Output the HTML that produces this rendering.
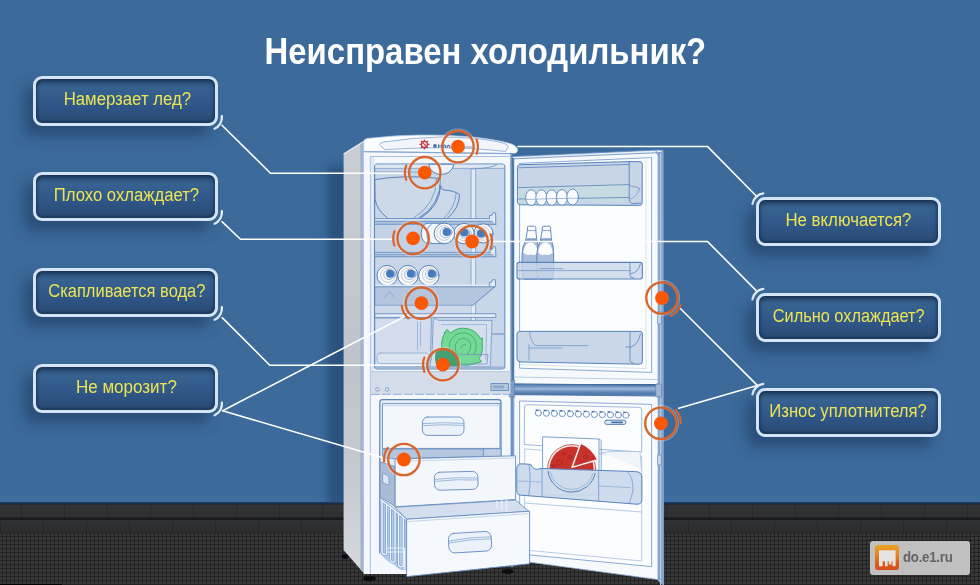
<!DOCTYPE html>
<html lang="ru">
<head>
<meta charset="utf-8">
<title>Неисправен холодильник?</title>
<style>
html,body{margin:0;padding:0;}
body{width:980px;height:585px;overflow:hidden;background:#3b6a9b;font-family:"Liberation Sans",sans-serif;position:relative;}
#stage{position:absolute;left:0;top:0;width:980px;height:585px;overflow:hidden;background:#3b6a9b;}
#wallshade{position:absolute;left:0;top:495px;width:980px;height:10px;background:linear-gradient(#3b6a9b 0%,#3f6fa2 55%,#3e6da0 66%,#1e3b60 74%,#1a2c45 88%,#26282b 100%);}
#base{position:absolute;left:0;top:505px;width:980px;height:30px;background-color:#2b2c2e;
 background-image:linear-gradient(90deg,rgba(20,20,22,.3) 1px,transparent 1px),linear-gradient(90deg,rgba(20,20,22,.3) 1px,transparent 1px),linear-gradient(rgba(52,53,55,.9) 0,rgba(46,47,49,.6) 12px,rgba(24,24,26,.9) 13px,rgba(24,24,26,.9) 15px),linear-gradient(rgba(50,51,53,.9) 0,rgba(42,43,45,.6) 13px,rgba(30,30,32,.9) 15px);
 background-size:43px 15px,43px 15px,100% 15px,100% 15px;background-position:21px 0,0 15px,0 0,0 15px;background-repeat:repeat-x,repeat-x,no-repeat,no-repeat;}
#floor{position:absolute;left:0;top:534px;width:980px;height:51px;background-color:#383839;
 background-image:linear-gradient(#232324 1px,transparent 1px),linear-gradient(90deg,#232324 1px,transparent 1px);background-size:4px 4px;background-position:2px 2px;}
#floor:after{content:"";position:absolute;left:0;top:49.6px;width:62px;height:2px;background:#000;}
#title{position:absolute;left:-15px;top:26.5px;width:1000px;text-align:center;color:#fff;font-weight:bold;font-size:37px;line-height:50px;white-space:nowrap;}
#title span{display:inline-block;transform-origin:50% 50%;transform:scaleX(.889);}
.btn{position:absolute;width:179px;height:43px;border:3px solid #d3e4f6;border-radius:9px;
 background:linear-gradient(#2c547f 0%,#36628f 22%,#30588a 55%,#284a72 100%);
 box-shadow:inset 0 2px 4px rgba(10,25,50,.7),inset 0 -2px 3px rgba(15,30,60,.35),-9px 10px 14px rgba(26,48,86,.5);
 color:#ece453;font-size:18px;line-height:40px;text-align:center;white-space:nowrap;}
.btn span{display:inline-block;transform-origin:50% 50%;}
#svgmain{position:absolute;left:0;top:0;}
#logo{position:absolute;left:870px;top:541px;width:100px;height:34px;border-radius:3px;background:rgba(203,203,203,.93);}
#logo i{position:absolute;left:5px;top:4.4px;width:24.2px;height:24.4px;border-radius:3px;background:linear-gradient(#e9a324 0%,#e58a22 35%,#dc5a1c 75%,#d94e1b 100%);}
#logo b{position:absolute;left:32.8px;top:-.6px;line-height:34px;font-size:15px;color:#646464;font-weight:bold;letter-spacing:-.3px;transform:scaleX(.885);transform-origin:0 50%;white-space:nowrap;}
#logo svg{position:absolute;left:5px;top:4.4px;}
</style>
</head>
<body>
<div id="stage">
<div id="wallshade"></div>
<div id="base"></div>
<div id="floor"></div>

<div id="title"><span>Неисправен холодильник?</span></div>

<svg id="svgmain" width="980" height="585" viewBox="0 0 980 585">
<!--FRIDGE-->
<defs>
<linearGradient id="gShadow" x1="0" y1="0" x2="1" y2="0">
 <stop offset="0" stop-color="#2a4f7c" stop-opacity="0"/>
 <stop offset="1" stop-color="#244670" stop-opacity=".75"/>
</linearGradient>
<linearGradient id="gSide" x1="0" y1="0" x2="0" y2="1">
 <stop offset="0" stop-color="#c9ced5"/>
 <stop offset=".5" stop-color="#bec4cb"/>
 <stop offset=".8" stop-color="#c6cbd2"/>
 <stop offset="1" stop-color="#d6dade"/>
</linearGradient>
<linearGradient id="gGap" x1="0" y1="0" x2="0" y2="1">
 <stop offset="0" stop-color="#4f79ad"/>
 <stop offset=".22" stop-color="#6f93c3"/>
 <stop offset=".42" stop-color="#9fb9da"/>
 <stop offset=".6" stop-color="#6d91c1"/>
 <stop offset=".85" stop-color="#4a74a9"/>
 <stop offset="1" stop-color="#7c9dc8"/>
</linearGradient>
<filter id="fBlur" x="-100%" y="-10%" width="300%" height="120%"><feGaussianBlur stdDeviation="4"/></filter>
<clipPath id="cpWall"><rect x="280" y="120" width="80" height="382"/></clipPath>
</defs>

<!-- soft shadow on wall to the left of fridge -->
<g clip-path="url(#cpWall)"><rect x="327.5" y="166" width="26" height="350" fill="#23456f" opacity=".64" filter="url(#fBlur)"/></g>
<!-- feet -->
<ellipse cx="345" cy="556.5" rx="3.6" ry="2.4" fill="#0c0d0f"/>
<ellipse cx="369.6" cy="578.6" rx="6.4" ry="2.8" fill="#0c0d0f"/>
<ellipse cx="507.5" cy="571.5" rx="6" ry="2.4" fill="#0c0d0f"/>

<!-- side panel -->
<path d="M343.6 154 L363.6 141.5 L363.6 573 L343.6 550 Z" fill="url(#gSide)"/>
<path d="M360.6 143.5 L363.6 141.5 L363.6 572.5 L360.6 568.5 Z" fill="#8ea6c9"/>
<path d="M362 142.6 V570.4" stroke="#b4c5dd" stroke-width=".9"/>
<path d="M343.6 154 L363.6 141.5" stroke="#e9eef5" stroke-width="1.2" fill="none"/>

<!-- front face (white frame) -->
<path d="M363.6 141.6 Q364 139.2 367.4 138.6 Q420 132.6 470 137 Q495 139.6 512 144 L514 146 L514 565 L408 574 L363.6 574 Z" fill="#f4f8fc"/>

<!-- top cap -->
<path d="M363.6 151.5 L363.6 141.6 Q364 139 367.4 138.4 Q420 132.4 470 136.8 Q495 139.4 508 143 Q516.6 145.4 517.6 149 Q518 153 513.6 153.6 Z" fill="#fbfdff" stroke="#a9c1df" stroke-width=".8"/>
<path d="M363.6 151.6 L514 153.6" stroke="#86a7d1" stroke-width="1.3" fill="none"/>
<!-- handle outline in top cap -->
<path d="M379.4 144.6 Q379.6 142.8 384 142 Q412 137.6 440 137 Q475 137 498 141.8 Q507 143.6 508.4 146.4 L505.6 151.4 Q470 147.8 440 147.8 Q410 148 384.6 149.6 Z" fill="#f2f6fb" stroke="#8fafd6" stroke-width=".9"/>
<!-- little red snowflake / brand -->
<g stroke="#c8283a" stroke-width="1" fill="none">
 <circle cx="424.4" cy="144.4" r="3" stroke-width="1.2"/>
 <path d="M422.4 142.4 L426.4 146.4" stroke-width="1.2"/>
 <path d="M424.4 139.4 v1.4 M424.4 148 v1.4 M419.4 144.4 h1.4 M428 144.4 h1.4 M420.9 140.9 l1 1 M426.9 146.9 l1 1 M427.9 140.9 l-1 1 M421.9 146.9 l-1 1" stroke-width="1.3"/>
</g>
<circle cx="435" cy="146" r="1.9" fill="#4c73aa"/>
<path d="M438.6 144.2 v3.8 M438.6 146 h2.6 M441.2 144.2 v3.8 M443 148 v-2.4 q1.2 -1 2.4 0 v2.4 M447.2 148 v-2.6 M447.2 146 q1.4 -1.2 2.6 0 v2" stroke="#4c73aa" stroke-width="1.1" fill="none"/>
<rect x="465" y="146" width="8" height="2.4" rx=".8" fill="#b9c8dc"/>

<!-- frame inner lines -->
<path d="M370.4 156.5 V574 M370.4 156.5 H509.5" stroke="#9db9db" stroke-width=".9" fill="none"/>
<rect x="370.9" y="157" width="3.6" height="214" fill="#e1e9f4"/>

<!-- hinge strip between body and door -->
<rect x="510.6" y="153.5" width="3.6" height="242" fill="#4f78ab"/>
<rect x="510.6" y="153.5" width="1.2" height="242" fill="#7b9cc6"/>
<rect x="510.6" y="395" width="3.2" height="172" fill="#6a92c6"/>

<!-- ===== open door ===== -->
<g id="door" stroke-linejoin="round" stroke-linecap="round">
<!-- door edge (thickness) on the right -->
<path d="M657.8 152 L663.6 150.4 L664 586 L657.8 581 Z" fill="#86a4cc"/>
<path d="M660.6 151.4 V584.6" stroke="#b5c9e3" stroke-width="1.2"/>
<!-- door white panel upper -->
<path d="M514.2 157 L657.8 151 V384 H514.2 Z" fill="#f7fafd"/>
<!-- door white panel lower -->
<path d="M514.2 394.6 H657.8 V579.6 L530 562.2 L514.2 561 Z" fill="#f7fafd"/>
<path d="M530 562.2 L657.8 579.6" stroke="#8fadd3" stroke-width=".8" fill="none"/>
<!-- top thickness of door -->
<path d="M511.4 156.6 L657.6 150 L663.4 150.2 L661 152.6 L514.4 158.8 Z" fill="#e6eef8" stroke="#658cc2" stroke-width=".8"/>
<path d="M655.8 150.6 L657.8 155" stroke="#658cc2" stroke-width=".8"/>
<!-- inner liner upper -->
<path d="M520 163.4 L651.6 157.6 V372.4 L520 368.2 Z" fill="#fbfdff" stroke="#6f96c8" stroke-width=".8"/>
<path d="M514.4 377 L657.6 379.6" stroke="#a9c0de" stroke-width=".8" fill="none"/>

<!-- shelf 1 : egg box with lid -->
<path d="M517.4 167 Q517.4 165 519.6 164.8 L629 161.6 H640 Q642.2 161.6 642.2 164 V202.6 Q642.2 205.4 639.6 205.4 L520.6 204.8 Q517.4 204.8 517.4 202 Z" fill="#c7d5e7" stroke="#5883bb" stroke-width="1"/>
<path d="M518 187.6 Q575 186 629.4 184.6 V201.6 Q575 202.4 518 203 Z" fill="#c5dbe1"/>
<path d="M518 187.6 Q575 186 629.4 184.6 M518 199 Q575 198.6 629.4 197.4 M519 167.8 L629 164.4" stroke="#5883bb" stroke-width=".8" fill="none"/>
<path d="M629.2 162 V199.6 Q629.6 203.8 634 203.6 L640.4 203.2" fill="none" stroke="#5883bb" stroke-width=".9"/>
<path d="M629.6 186 Q639 186.6 640 189.4 M631 199 Q637.6 196 639.6 188.6" fill="none" stroke="#6890c4" stroke-width=".7"/>
<!-- eggs -->
<g fill="#f9fbfe" stroke="#5883bb" stroke-width=".9">
 <ellipse cx="531.2" cy="197.6" rx="5.6" ry="7.8"/>
 <ellipse cx="541.4" cy="197.6" rx="5.6" ry="7.8"/>
 <ellipse cx="551.8" cy="197.6" rx="5.6" ry="7.8"/>
 <ellipse cx="562" cy="197.4" rx="5.6" ry="7.8"/>
 <ellipse cx="572.6" cy="197" rx="5.8" ry="8"/>
</g>
<path d="M525.6 199.6 Q550 198.4 578.4 198.2" stroke="#7ca0ce" stroke-width=".7" fill="none"/>

<!-- bottles -->
<g id="bottles">
 <g><path d="M527.4 227.6 Q527.4 226.2 528.8 226.2 H534.4 Q535.8 226.2 535.8 227.6 V230.4 L536.8 240.4 Q538.8 247 538.8 254 V271 Q538.8 276 537.6 279 H524.2 Q522.2 276 522.2 271 V254 Q522.2 247 525.6 240.4 L527.4 230.4 Z" fill="#fafcfe" stroke="#5883bb" stroke-width=".9"/><path d="M525.8 240.6 H536.8 Q538.8 247 538.8 254 V271 Q538.8 276 537.6 279 H524.2 Q522.2 276 522.2 271 V254 Q522.2 247 525.8 240.6 Z" fill="#a8bedb" stroke="#5883bb" stroke-width=".7"/><path d="M523.2 252.6 Q524.6 242.6 530.6 242.6 Q536.6 242.6 538.0 252.6 Q534.0 256.6 530.6 254.2 Q527.0 256.6 523.2 252.6 Z" fill="#fafcfe"/><path d="M526.4 238.2 H536.6 V240.4 H526.0 Z" fill="#7fa0cc"/><path d="M527.4 230.6 H535.8" stroke="#5883bb" stroke-width=".7"/></g>
 <g><path d="M542.2 227.6 Q542.2 226.2 543.6 226.2 H549.2 Q550.6 226.2 550.6 227.6 V230.4 L551.6 240.4 Q553.6 247 553.6 254 V271 Q553.6 276 552.4 279 H539.0 Q537.0 276 537.0 271 V254 Q537.0 247 540.4 240.4 L542.2 230.4 Z" fill="#fafcfe" stroke="#5883bb" stroke-width=".9"/><path d="M540.6 240.6 H551.6 Q553.6 247 553.6 254 V271 Q553.6 276 552.4 279 H539.0 Q537.0 276 537.0 271 V254 Q537.0 247 540.6 240.6 Z" fill="#a8bedb" stroke="#5883bb" stroke-width=".7"/><path d="M538.0 252.6 Q539.4 242.6 545.4 242.6 Q551.4 242.6 552.8 252.6 Q548.8 256.6 545.4 254.2 Q541.8 256.6 538.0 252.6 Z" fill="#fafcfe"/><path d="M541.2 238.2 H551.4 V240.4 H540.8 Z" fill="#7fa0cc"/><path d="M542.2 230.6 H550.6" stroke="#5883bb" stroke-width=".7"/></g>
</g>
<!-- shelf 2 -->
<path d="M517 264.6 Q517 262.4 519.4 262.4 H640 Q642.4 262.4 642.4 264.8 V276.4 Q642.4 279 639.8 279 H519.8 Q517 279 517 276.4 Z" fill="#c9d7e9" fill-opacity=".8" stroke="#5883bb" stroke-width="1.1"/>
<path d="M518 270.6 H630 M540 268.6 H563" stroke="#6890c4" stroke-width=".7" fill="none"/>
<path d="M630 262.8 V275.6 Q630.4 278.4 634 278.2 M631 274 Q638.6 272 640.4 264" fill="none" stroke="#5883bb" stroke-width=".8"/>

<!-- shelf 3 -->
<path d="M517 333.6 Q517 331.4 519.4 331.4 H640 Q642.4 331.4 642.4 333.8 V361 Q642.4 364.2 639.4 364.2 L521 362 Q517 362 517 359 Z" fill="#c9d7e9" stroke="#5883bb" stroke-width="1"/>
<path d="M529.6 332 Q531 343.6 536 345.6 H588 M529 348 H562 M529 344.6 V360" stroke="#6890c4" stroke-width=".7" fill="none"/>
<path d="M630 332 V360.6 Q630.6 363.4 634 363.4 M626 347 H631 Q638.6 344 640.4 334" fill="none" stroke="#5883bb" stroke-width=".8"/>
<path d="M520.6 364.6 L646 368.6 V160" stroke="#c5d5e9" stroke-width=".7" fill="none"/>

<!-- gap between the two doors -->
<path d="M511 383.8 L657.8 385.4 V396 L511 394.6 Z" fill="url(#gGap)"/>
<path d="M511 383.8 L657.8 385.4 M511 394.6 L657.8 396" stroke="#436c9f" stroke-width=".9" fill="none"/>
<rect x="655.6" y="384" width="6" height="13" rx="1.4" fill="#9fb6d6" stroke="#5b82b4" stroke-width=".7"/>
<rect x="509.6" y="380" width="5" height="17" fill="#7f9ec7" stroke="#55799f" stroke-width=".6"/>

<!-- lower door liner -->
<path d="M520 401 L651.6 404.4 V566.6 L520 554 Z" fill="#fbfdff" stroke="#6f96c8" stroke-width=".8"/>
<path d="M524.6 406.6 Q524.6 404.6 526.6 404.7 L639.6 407.4 Q641.7 407.5 641.7 409.6 V452 L524.6 444.6 Z" fill="none" stroke="#8aa9d2" stroke-width=".8"/>
<path d="M524.6 449 L641.7 456.4 M524.6 449 V550 L641.7 561 V456.4" fill="none" stroke="#a9c0de" stroke-width=".8"/>
<!-- ice-cube row -->
<g fill="#fbfdff" stroke="#5b82b4" stroke-width=".8">
 <circle cx="538.4" cy="413" r="3.1"/><circle cx="546.4" cy="413.2" r="3.1"/><circle cx="554.4" cy="413.4" r="3.1"/>
 <circle cx="562.4" cy="413.6" r="3.1"/><circle cx="570.4" cy="413.8" r="3.1"/><circle cx="578.4" cy="414" r="3.1"/>
 <circle cx="586.4" cy="414.2" r="3.1"/><circle cx="594.4" cy="414.4" r="3.1"/><circle cx="602.4" cy="414.6" r="3.1"/>
 <circle cx="610.4" cy="414.8" r="3.1"/><circle cx="618.4" cy="415" r="3.1"/><circle cx="626" cy="415.2" r="3.1"/>
</g>
<path d="M536 409.8 l2 .8 M544 410 l2 .8 M552 410.2 l2 .8 M560 410.4 l2 .8 M568 410.6 l2 .8 M576 410.8 l2 .8 M584 411 l2 .8 M592 411.2 l2 .8 M600 411.4 l2 .8 M608 411.6 l2 .8 M616 411.8 l2 .8 M623.6 412 l2 .8" stroke="#3f6aa3" stroke-width="1.1"/>
<rect x="604.6" y="420.2" width="21.4" height="4.2" rx="2.1" fill="#dfe9f6" stroke="#4c73aa" stroke-width=".9"/>
<rect x="611" y="421.4" width="12" height="1.8" rx=".9" fill="#4c73aa"/>

<!-- pizza box -->
<path d="M543 436.8 L599 439 V495 H543 Z" fill="#fbfdff" stroke="#6f96c8" stroke-width=".9"/>
<path d="M599 439 L601.2 440.6 V470" stroke="#6f96c8" stroke-width=".8" fill="none"/>
<!-- shelf 4 back contents -->
<path d="M602 452.6 L610 451.6 H640 L641.6 470" fill="#f1f5fa" stroke="#a9c0de" stroke-width=".8"/>
<!-- pizza -->
<clipPath id="cpPizza"><path d="M540 430 H603 V471.6 L540 469.2 Z"/></clipPath>
<g clip-path="url(#cpPizza)"><circle cx="571.6" cy="468.6" r="24" fill="#f6e6e4" stroke="#b9463f" stroke-width=".8"/>
<circle cx="571.6" cy="468.6" r="22" fill="#c9322c"/></g>
<path d="M572 467.4 L580.8 443 Q592 447.6 597.8 459.8 Z" fill="#c9322c" stroke="#fbf6f4" stroke-width="1.5" stroke-linejoin="round"/>
<g fill="none" stroke="#a82520" stroke-width=".8">
 <circle cx="559.6" cy="462.6" r="2.6"/><circle cx="563.6" cy="453.6" r="1.6"/><circle cx="569.6" cy="457" r="1.8"/><circle cx="585.6" cy="457" r="2"/><circle cx="553.6" cy="466" r="1.4"/>
</g>
<!-- shelf 4 -->
<g transform="translate(0 1)">
<path d="M516.8 468 Q516.6 462.6 522 462.8 L530.6 463.4 Q534 470.6 541 467.4 L635.4 470.6 Q642 470.8 641.8 476 V499 Q641.6 503.4 637 503.2 L521 494.2 Q516.8 494 516.8 490 Z" fill="#cad9ec" fill-opacity=".93" stroke="#5883bb" stroke-width="1"/>
<path d="M548 470.4 A24 24 0 0 0 595.2 472.4" fill="none" stroke="#5883bb" stroke-width="1"/>
<path d="M550.2 470.6 A22 22 0 0 0 593 472.4" fill="none" stroke="#86a7d2" stroke-width=".7"/>
<path d="M542 467.6 V495.6 M598.6 469.4 V500 M529 464 Q531.6 478 528.6 494.6 M627.6 471 Q633.4 475.6 633 490 L629.4 502" stroke="#6890c4" stroke-width=".7" fill="none"/>
<path d="M518 480 L541.6 481 M599 485 L630 486.6" stroke="#86a7d2" stroke-width=".7" fill="none"/>
</g>
<path d="M524.8 503 L641.7 512" stroke="#a3bcdc" stroke-width=".8" fill="none"/>
<!-- small clips on door edge -->
<rect x="658" y="312" width="3.4" height="12" fill="#c9d7e9" stroke="#5b82b4" stroke-width=".6"/>
<rect x="658" y="455" width="3.4" height="10" fill="#c9d7e9" stroke="#5b82b4" stroke-width=".6"/>
</g>

<!-- ===== fridge interior ===== -->
<g id="interior" stroke-linejoin="round" stroke-linecap="round">
<rect x="374.6" y="164" width="130.2" height="205" rx="3" fill="#c8d6e8" stroke="#5883bb" stroke-width="1.1"/>
<!-- right side wall (past the rail) slightly darker -->
<rect x="475.6" y="169" width="28.6" height="199" fill="#c7d6e9"/>
<path d="M492 334 H504.4" stroke="#5883bb" stroke-width=".9"/>
<!-- top inner bands -->
<rect x="375.2" y="164.6" width="129" height="3.6" fill="#dde7f3"/>
<path d="M375.2 168.4 H504 M375.2 172 H428" stroke="#7fa1cc" stroke-width=".8" fill="none"/>
<!-- vertical rail -->
<rect x="471.4" y="169" width="4.2" height="199" fill="#e3ebf5" stroke="#6f96c8" stroke-width=".7"/>

<!-- big bowl -->
<path d="M375.2 179.5 Q405 174.5 440.5 178.5 Q441 205 418 218.6 L388 218.6 Q377 210 375.2 200 Z" fill="#cbd9e9" stroke="#5883bb" stroke-width="1"/>
<path d="M436.5 179 Q436.5 204 413 218.6" fill="none" stroke="#6890c4" stroke-width=".8"/>
<!-- second bowl -->
<path d="M440.6 186 Q441 189.5 444 190 Q454 190.5 459.6 194.5 Q459 209 447 218.6 L420 218.6 Q440 206 440.6 186 Z" fill="#cbd9ea" stroke="#5883bb" stroke-width="1"/>
<path d="M456.2 193.5 Q455 208 443.5 218.6" fill="none" stroke="#6890c4" stroke-width=".8"/>
<!-- lamp -->
<path d="M428.6 164.6 Q431 174.6 441.5 174.4 Q451.5 174 454 164.6 Z" fill="#eef3fa" stroke="#5883bb" stroke-width="1"/>
<path d="M476 168.5 Q490 168.5 497 164.6" fill="none" stroke="#6890c4" stroke-width=".8"/>

<!-- shelf 1 -->
<rect x="375.2" y="218.6" width="120.6" height="2.6" fill="#e2ebf6"/>
<rect x="375.2" y="221.2" width="120.6" height="3.2" fill="#a9bfdc"/>
<path d="M375.2 218.6 H495.8 M375.2 221.2 H495.8 M375.2 224.4 H495.8" stroke="#5883bb" stroke-width=".8" fill="none"/>
<path d="M489.5 218.6 V215.6 L492 215.2 L493.2 212.6 L495.6 212.8 L495.8 224.4" fill="#dfe8f4" stroke="#5883bb" stroke-width=".8"/>
<!-- zone between shelf 1 and 2 -->
<rect x="375.2" y="224.8" width="96" height="27.6" fill="#c4d2e5"/>

<!-- cans row 1 (lying, seen from the end) -->
<g id="cans1">
 <path d="M444.6 223.2 H428 A6.8 10.2 0 0 0 428 243.6 H444.6 Z" fill="#f3f7fc" stroke="#5883bb" stroke-width="1"/>
 <path d="M431 224.6 A6 9.4 0 0 0 431 242.4" fill="none" stroke="#a9bfdc" stroke-width="1.6"/>
 <g><circle cx="483.4" cy="233.4" r="9.6" fill="#f6f9fd" stroke="#5883bb" stroke-width="1"/><circle cx="482.7" cy="233.4" r="6.9" fill="none" stroke="#c7b5a4" stroke-width=".7"/><circle cx="482.0" cy="233.4" r="4.8" fill="#f6f9fd" stroke="#8aa9d2" stroke-width=".8"/><circle cx="483.6" cy="233.7" r="3.3" fill="#8fb0da"/><circle cx="481.0" cy="233.4" r="4" fill="#467abc"/></g>
 <g><circle cx="464" cy="233.6" r="10.2" fill="#f6f9fd" stroke="#5883bb" stroke-width="1"/><circle cx="464.0" cy="233.3" r="7.3" fill="none" stroke="#c7b5a4" stroke-width=".7"/><circle cx="464.0" cy="233.0" r="5.1" fill="#f6f9fd" stroke="#8aa9d2" stroke-width=".8"/><circle cx="466.6" cy="232.9" r="3.3" fill="#8fb0da"/><circle cx="464.0" cy="232.6" r="4" fill="#467abc"/></g>
 <g><circle cx="444.4" cy="233.4" r="10.3" fill="#f6f9fd" stroke="#5883bb" stroke-width="1"/><circle cx="444.0" cy="233.0" r="7.3" fill="none" stroke="#c7b5a4" stroke-width=".7"/><circle cx="445.1" cy="232.6" r="5.1" fill="#f6f9fd" stroke="#8aa9d2" stroke-width=".8"/><circle cx="449.2" cy="232.3" r="3.3" fill="#8fb0da"/><circle cx="446.6" cy="232.0" r="4" fill="#467abc"/></g>
</g>

<!-- shelf 2 -->
<rect x="375.2" y="252.4" width="120.6" height="1.8" fill="#e2ebf6"/>
<rect x="375.2" y="254.2" width="120.6" height="2.6" fill="#a9bfdc"/>
<path d="M375.2 252.4 H495.8 M375.2 254.2 H495.8 M375.2 256.8 H495.8" stroke="#5883bb" stroke-width=".8" fill="none"/>
<path d="M490 252.4 V249.6 L492.4 249.2 L493.4 246.6 L495.6 246.8 L495.8 256.8" fill="#dfe8f4" stroke="#5883bb" stroke-width=".8"/>

<!-- cans row 2 -->
<g id="cans2">
 <g><circle cx="428.9" cy="275.6" r="10.2" fill="#f6f9fd" stroke="#5883bb" stroke-width="1"/><circle cx="429.7" cy="275.1" r="7.3" fill="none" stroke="#c7b5a4" stroke-width=".7"/><circle cx="430.6" cy="274.5" r="5.1" fill="#f6f9fd" stroke="#8aa9d2" stroke-width=".8"/><circle cx="434.3" cy="274.1" r="3.3" fill="#8fb0da"/><circle cx="431.7" cy="273.8" r="4" fill="#467abc"/></g>
 <g><circle cx="408" cy="275.6" r="10.2" fill="#f6f9fd" stroke="#5883bb" stroke-width="1"/><circle cx="408.8" cy="275.1" r="7.3" fill="none" stroke="#c7b5a4" stroke-width=".7"/><circle cx="409.7" cy="274.5" r="5.1" fill="#f6f9fd" stroke="#8aa9d2" stroke-width=".8"/><circle cx="413.4" cy="274.1" r="3.3" fill="#8fb0da"/><circle cx="410.8" cy="273.8" r="4" fill="#467abc"/></g>
 <g><circle cx="387.2" cy="275.6" r="10.2" fill="#f6f9fd" stroke="#5883bb" stroke-width="1"/><circle cx="388.0" cy="275.1" r="7.3" fill="none" stroke="#c7b5a4" stroke-width=".7"/><circle cx="388.9" cy="274.5" r="5.1" fill="#f6f9fd" stroke="#8aa9d2" stroke-width=".8"/><circle cx="392.6" cy="274.1" r="3.3" fill="#8fb0da"/><circle cx="390.0" cy="273.8" r="4" fill="#467abc"/></g>
</g>

<!-- shelf 3 (thick, perspective) -->
<path d="M375.2 286 H495.6 L472.8 305.4 H375.2 Z" fill="#b3c6de" stroke="#5883bb" stroke-width=".9"/>
<rect x="375.2" y="284.6" width="120.4" height="2" fill="#e5edf7"/>
<path d="M375.2 286.8 H495" stroke="#5883bb" stroke-width=".8"/>
<path d="M489.4 286 V282.6 L491.6 282.2 L492.6 279.6 L495.4 279.8 L495.6 286" fill="#dfe8f4" stroke="#5883bb" stroke-width=".8"/>
<rect x="375.2" y="305.6" width="96" height="8" fill="#cdd9ea"/>
<path d="M384 298 L390 291 L394 297 M406 292 L411 296" stroke="#7ca0ce" stroke-width=".7" fill="none"/>

<!-- crisper cover -->
<rect x="375.2" y="313.8" width="120.6" height="3.6" fill="#eaf0f8" stroke="#5883bb" stroke-width=".8"/>
<!-- crisper drawers -->
<path d="M375.2 318 H431.5 L430.5 355 L427 367 H375.2 Z" fill="#d2dcec" stroke="#6f96c8" stroke-width=".8"/>
<path d="M433.6 319 Q436.5 317.6 438.4 320.4 L492 320.4 L490.4 366.6 L429.6 367 L432 355 Z" fill="#d5dfee" stroke="#6f96c8" stroke-width=".8"/>
<path d="M441.5 324.6 H486.6 L485.8 360" fill="none" stroke="#86a7d2" stroke-width=".7"/>
<path d="M417.5 322 L417.5 350 M420.6 322 V346" stroke="#86a7d2" stroke-width=".7" fill="none"/>
<rect x="377" y="353" width="52" height="10.6" rx="3.5" fill="#dbe4f1" stroke="#8dabd3" stroke-width=".8"/>
<!-- cabbage -->
<g id="cabbage">
 <path d="M444.8 332.6 L447 329.4 L450.6 333 Q458 326.6 467 328.6 Q476 330 480.4 338.6 L482.4 338 L482.2 343 Q483.6 352 479 358.6 L481.6 361.6 L476 363.4 Q468 366.4 459 364.8 Q447 362.6 442.6 352 Q439.8 342 444.8 332.6 Z" fill="#74d897" stroke="#3fae6a" stroke-width="1"/>
 <path d="M450 352 Q447 340 456 334.6 Q467 329.6 474 338 Q478.6 346 474 354" fill="none" stroke="#3fae6a" stroke-width=".9"/>
 <path d="M456 352 Q453 343 460 339 Q468 336.6 470.6 344 Q471.6 350 467.6 354" fill="none" stroke="#3fae6a" stroke-width=".9"/>
 <path d="M461 348 Q462 343.6 466 345" fill="none" stroke="#3fae6a" stroke-width=".9"/>
 <path d="M435.6 352.6 Q441 348 452 349.6 L457.6 353.6 L459.4 358.6 L458 366.8 L436.6 366.8 Q434 359 435.6 352.6 Z" fill="#469f72"/>
</g>
<path d="M459 354.6 H488 L487 364 H459" fill="none" stroke="#6f96c8" stroke-width=".8"/>
<!-- interior bottom edge -->
<rect x="375.2" y="366.4" width="129" height="2.4" fill="#9db5d6"/>
</g>

<!-- control strip -->
<rect x="370.8" y="371.6" width="139.6" height="22.6" fill="#d3dce8"/>
<path d="M370.8 371.6 H510.4" stroke="#a9c0de" stroke-width=".8"/>
<path d="M370.8 394.4 H510.4" stroke="#7ca0ce" stroke-width=".8" stroke-dasharray="9 2"/>
<circle cx="377.4" cy="389.4" r="1.7" fill="#e9eff7" stroke="#5883bb" stroke-width=".7"/>
<circle cx="387" cy="389.4" r="1.7" fill="#e9eff7" stroke="#5883bb" stroke-width=".7"/>
<rect x="491" y="383.6" width="17.4" height="6.8" fill="#b5c6dd" stroke="#5883bb" stroke-width=".8"/>
<rect x="493" y="385.4" width="11" height="3" fill="#8ea9cd"/>

<!-- ===== freezer compartment ===== -->
<g id="freezer" stroke-linejoin="round" stroke-linecap="round">
<!-- opening -->
<path d="M379.8 553 V402.4 Q379.8 399.6 382.6 399.6 H498.4 Q501 399.6 501 402.4 V460" fill="#e6edf6" stroke="#5883bb" stroke-width="1.2"/>
<!-- drawer 1 -->
<path d="M382.8 403.6 H500 V448.4 H382.8 Z" fill="#f3f7fc" stroke="#658cc2" stroke-width=".9"/>
<path d="M382.8 405.6 H500" stroke="#b9cce4" stroke-width=".8" fill="none"/>
<rect x="422.4" y="417" width="41.6" height="18.4" rx="5.5" fill="#ecf2f9" stroke="#658cc2" stroke-width=".9"/>
<path d="M423 423.6 Q443 421.8 463.6 423.4 M423 425.6 Q443 424 463.6 425.4" stroke="#7ca0ce" stroke-width=".7" fill="none"/>
<!-- band under drawer 1 (top rim of drawer 2) -->
<path d="M382.8 449 H500.8 V456 L395.4 458.8 L382.8 457.6 Z" fill="#b3c6de" stroke="#658cc2" stroke-width=".8"/>
<path d="M483.4 449 V456.4" stroke="#658cc2" stroke-width=".8"/>
<rect x="484" y="449.4" width="16.4" height="6.4" fill="#bfd0e5"/>
<!-- drawer 2 left side -->
<path d="M380.4 462 L395.4 466.6 V506.6 L380.4 497 Z" fill="#a9bcd6" stroke="#658cc2" stroke-width=".8"/>
<path d="M382.6 474.6 Q382.4 473 384 473.6 L387.6 475.4 Q389 476.4 389 478 V483.6 Q389 485.4 387.4 484.8 L383.6 483 Q382.6 482.4 382.6 480.6 Z" fill="#dbe5f2" stroke="#658cc2" stroke-width=".7"/>
<!-- drawer 2 front -->
<path d="M395.4 459 L515.6 455.8 V499.6 L395.4 506.8 Z" fill="#f4f8fd" stroke="#658cc2" stroke-width=".9"/>
<path d="M395.4 461.4 L515.6 458" stroke="#b9cce4" stroke-width=".8" fill="none"/>
<rect x="434.4" y="471.8" width="43.6" height="18" rx="5.5" fill="#ecf2f9" stroke="#658cc2" stroke-width=".9" transform="rotate(-1.4 456 481)"/>
<path d="M435 479.4 Q456 476.8 477.8 478 M435 481.4 Q456 478.8 477.8 480" stroke="#7ca0ce" stroke-width=".7" fill="none"/>

<!-- wire basket side of drawer 3 -->
<path d="M380.6 499.6 L407 519.8 V570.6 L400 569.6 L392.6 563.4 L386 560 L380.6 553.6 Z" fill="#b1caea"/>
<g fill="none" stroke="#5f8bc4" stroke-width="2.6">
 <path d="M382 501 V552.4 Q382.6 554.6 384.6 554.4 L386.6 554 V504.4"/>
 <path d="M390.4 507.6 V560.2 Q391 562.4 393 562.2 L395 561.8 V511"/>
 <path d="M398.6 514 V565 Q399.2 567.2 401.2 567 L403.2 566.6 V517.4"/>
 <path d="M380.8 499.8 L406.8 519.8"/>
</g>
<g fill="none" stroke="#f1f6fc" stroke-width="1.5">
 <path d="M382 501 V552.4 Q382.6 554.6 384.6 554.4 L386.6 554 V504.4"/>
 <path d="M390.4 507.6 V560.2 Q391 562.4 393 562.2 L395 561.8 V511"/>
 <path d="M398.6 514 V565 Q399.2 567.2 401.2 567 L403.2 566.6 V517.4"/>
 <path d="M380.8 499.8 L406.8 519.8"/>
</g>
<path d="M404.6 548 V568.6 M386.6 548 H404 M386.6 552 H404" stroke="#e4edf8" stroke-width="1.2" fill="none"/>
<!-- drawer 3 top face -->
<path d="M395.4 507.2 L515.6 500 L529 511.4 L407 519.2 Z" fill="#d3dfef" stroke="#658cc2" stroke-width=".8"/>
<path d="M497 501.4 V508 M501.6 501 V510 M506.6 500.6 V511" stroke="#e9f0f9" stroke-width="1.4"/>
<!-- drawer 3 front -->
<path d="M407 519.2 L529.6 511.2 V563.8 L407 576.6 Z" fill="#f5f9fd" stroke="#658cc2" stroke-width=".9"/>
<path d="M407 521.6 L529 513.6" stroke="#b9cce4" stroke-width=".8" fill="none"/>
<rect x="448.6" y="532.4" width="42.8" height="19.6" rx="5.8" fill="#ecf2f9" stroke="#658cc2" stroke-width=".9" transform="rotate(-3.4 470 542)"/>
<path d="M449 541 Q470 537 491.2 536.8 M449 543 Q470 539 491.2 538.8" stroke="#7ca0ce" stroke-width=".7" fill="none"/>
</g>

<!--LINES-->
<g id="lines" fill="none" stroke="#ffffff" stroke-width="1.55" stroke-linejoin="round" stroke-linecap="round">
<path d="M222 125.2 L270.5 173.3 H404.5"/>
<path d="M222 221.6 L240.5 239.3 H392.5"/>
<path d="M222.2 317.6 L269.8 365.3 H423"/>
<path d="M222.6 410.8 L404.5 316.5"/>
<path d="M222.6 410.8 L384.6 458.2"/>
<path d="M518 146.4 H707.4 L757 196.8"/>
<path d="M492 241.4 H707.4 L757 291.4"/>
<path d="M680.6 308.8 L757.3 385.4"/>
<path d="M678.8 408.3 L757.3 385.4"/>
</g>
<g id="brackets" fill="none" stroke="#e9f2fb" stroke-width="2.3" stroke-linecap="round">
<path d="M221.9 116.1 A12.9 12.9 0 0 1 214.5 128.7"/>
<path d="M221.9 211.1 A12.9 12.9 0 0 1 214.5 223.7"/>
<path d="M221.9 307.1 A12.9 12.9 0 0 1 214.5 319.7"/>
<path d="M221.9 402.6 A12.9 12.9 0 0 1 214.5 415.2"/>
<path d="M752.5 203.8 A12.7 12.7 0 0 1 763.2 193.4"/>
<path d="M752.5 299.3 A12.7 12.7 0 0 1 763.2 288.9"/>
<path d="M752.5 394.3 A12.7 12.7 0 0 1 763.2 383.9"/>
</g>
<!--HOTSPOTS-->
<g id="hotspots">
<g><circle cx="424.8" cy="172.7" r="17.6" fill="none" stroke="#ffe9dc" stroke-opacity=".35" stroke-width="1.2"/><circle cx="424.8" cy="172.7" r="15.7" fill="none" stroke="#d8652d" stroke-width="2.3"/><path d="M406.2 179.8 A19.9 19.9 0 0 1 406.2 165.6" fill="none" stroke="#d8652d" stroke-width="2.2" stroke-linecap="round"/><circle cx="424.8" cy="172.7" r="6.9" fill="#fb5806"/></g>
<g><circle cx="413.1" cy="238.4" r="17.6" fill="none" stroke="#ffe9dc" stroke-opacity=".35" stroke-width="1.2"/><circle cx="413.1" cy="238.4" r="15.7" fill="none" stroke="#d8652d" stroke-width="2.3"/><path d="M394.5 245.5 A19.9 19.9 0 0 1 394.5 231.3" fill="none" stroke="#d8652d" stroke-width="2.2" stroke-linecap="round"/><circle cx="413.1" cy="238.4" r="6.9" fill="#fb5806"/></g>
<g><circle cx="442.9" cy="364.7" r="17.6" fill="none" stroke="#ffe9dc" stroke-opacity=".35" stroke-width="1.2"/><circle cx="442.9" cy="364.7" r="15.7" fill="none" stroke="#d8652d" stroke-width="2.3"/><path d="M424.3 371.8 A19.9 19.9 0 0 1 424.3 357.6" fill="none" stroke="#d8652d" stroke-width="2.2" stroke-linecap="round"/><circle cx="442.9" cy="364.7" r="6.9" fill="#fb5806"/></g>
<g><circle cx="421.4" cy="303.2" r="17.6" fill="none" stroke="#ffe9dc" stroke-opacity=".35" stroke-width="1.2"/><circle cx="421.4" cy="303.2" r="15.7" fill="none" stroke="#d8652d" stroke-width="2.3"/><path d="M408.4 318.3 A19.9 19.9 0 0 1 401.7 305.8" fill="none" stroke="#d8652d" stroke-width="2.2" stroke-linecap="round"/><circle cx="421.4" cy="303.2" r="6.9" fill="#fb5806"/></g>
<g><circle cx="403.9" cy="459.5" r="17.6" fill="none" stroke="#ffe9dc" stroke-opacity=".35" stroke-width="1.2"/><circle cx="403.9" cy="459.5" r="15.7" fill="none" stroke="#d8652d" stroke-width="2.3"/><path d="M384.1 461.6 A19.9 19.9 0 0 1 387.8 447.8" fill="none" stroke="#d8652d" stroke-width="2.2" stroke-linecap="round"/><circle cx="403.9" cy="459.5" r="6.9" fill="#fb5806"/></g>
<g><circle cx="458" cy="146.7" r="17.6" fill="none" stroke="#ffe9dc" stroke-opacity=".35" stroke-width="1.2"/><circle cx="458" cy="146.7" r="15.7" fill="none" stroke="#d8652d" stroke-width="2.3"/><path d="M476.6 139.6 A19.9 19.9 0 0 1 476.6 153.8" fill="none" stroke="#d8652d" stroke-width="2.2" stroke-linecap="round"/><circle cx="458" cy="146.7" r="6.9" fill="#fb5806"/></g>
<g><circle cx="472.1" cy="241.5" r="17.6" fill="none" stroke="#ffe9dc" stroke-opacity=".35" stroke-width="1.2"/><circle cx="472.1" cy="241.5" r="15.7" fill="none" stroke="#d8652d" stroke-width="2.3"/><path d="M490.7 234.4 A19.9 19.9 0 0 1 490.7 248.6" fill="none" stroke="#d8652d" stroke-width="2.2" stroke-linecap="round"/><circle cx="472.1" cy="241.5" r="6.9" fill="#fb5806"/></g>
<g><circle cx="662" cy="298" r="17.6" fill="none" stroke="#ffe9dc" stroke-opacity=".35" stroke-width="1.2"/><circle cx="662" cy="298" r="15.7" fill="none" stroke="#d8652d" stroke-width="2.3"/><path d="M680.5 305.3 A19.9 19.9 0 0 1 670.9 315.8" fill="none" stroke="#d8652d" stroke-width="2.2" stroke-linecap="round"/><circle cx="662" cy="298" r="6.9" fill="#fb5806"/></g>
<g><circle cx="660.9" cy="423.3" r="17.6" fill="none" stroke="#ffe9dc" stroke-opacity=".35" stroke-width="1.2"/><circle cx="660.9" cy="423.3" r="15.7" fill="none" stroke="#d8652d" stroke-width="2.3"/><path d="M675.6 409.9 A19.9 19.9 0 0 1 680.8 423.1" fill="none" stroke="#d8652d" stroke-width="2.2" stroke-linecap="round"/><circle cx="660.9" cy="423.3" r="6.9" fill="#fb5806"/></g>
</g>
</svg>

<div class="btn" style="left:33px;top:76px;height:44px;padding-left:4px;width:175px"><span style="transform:scaleX(0.932)">Намерзает лед?</span></div>
<div class="btn" style="left:33px;top:172px;padding-left:2px;width:177px"><span style="transform:scaleX(0.927)">Плохо охлаждает?</span></div>
<div class="btn" style="left:33px;top:268px;padding-left:2px;width:177px"><span style="transform:scaleX(0.915)">Скапливается вода?</span></div>
<div class="btn" style="left:33px;top:363.5px;padding-left:2px;width:177px"><span style="transform:scaleX(0.945)">Не морозит?</span></div>
<div class="btn" style="left:756px;top:197px"><span style="transform:scaleX(0.934)">Не включается?</span></div>
<div class="btn" style="left:756px;top:292.5px"><span style="transform:scaleX(0.907)">Сильно охлаждает?</span></div>
<div class="btn" style="left:756px;top:387.5px"><span style="transform:scaleX(0.926)">Износ уплотнителя?</span></div>

<div id="logo"><i></i><svg width="25" height="25" viewBox="0 0 25 25"><path d="M4 5.2 H20.6 V21.2 H17.6 V16.2 H16.6 V19.6 H13.8 V16.2 H12.6 V21.2 H10 V16.2 H7.6 V21.2 H4 Z" fill="#e6e4e2"/></svg><b>do.e1.ru</b></div>
</div>
</body>
</html>
